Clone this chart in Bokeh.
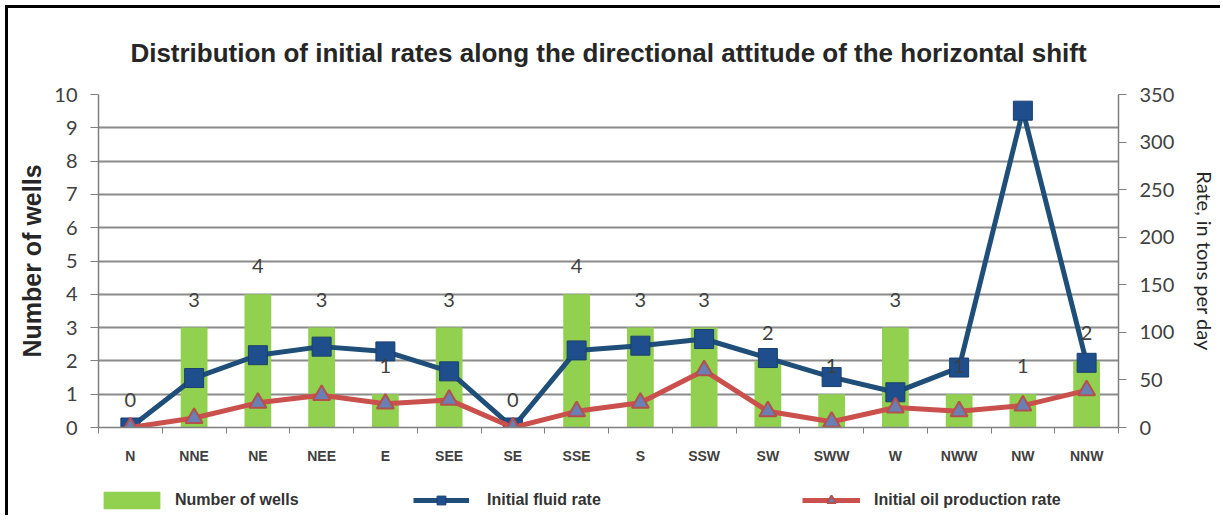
from bokeh.plotting import figure
from bokeh.layouts import column
from bokeh.models import (Range1d, LinearAxis, CategoricalAxis, FixedTicker, FactorRange,
                          ColumnDataSource, LabelSet, Legend, LegendItem)
from bokeh.core.properties import value
from bokeh.embed import file_html
from bokeh.resources import INLINE

categories = ["N", "NNE", "NE", "NEE", "E", "SEE", "SE", "SSE", "S", "SSW", "SW", "SWW", "W", "NWW", "NW", "NNW"]
wells = [0, 3, 4, 3, 1, 3, 0, 4, 3, 3, 2, 1, 3, 1, 1, 2]
fluid_rate = [0, 52, 76, 85, 80, 59, 0, 81, 86, 93, 73, 53, 37, 63, 333, 68]
oil_rate = [0, 10, 26, 34, 25, 29, 0, 17, 26, 60, 17, 6, 21, 17, 23, 39]
left_ticks = list(range(0, 11))
right_ticks = list(range(0, 351, 50))

title_text = "Distribution of initial rates along the directional attitude of the horizontal shift"
legend_labels = ["Number of wells", "Initial fluid rate", "Initial oil production rate"]

src = ColumnDataSource(dict(cat=categories, wells=wells, fluid=fluid_rate, oil=oil_rate,
                            wlab=[str(w) for w in wells]))

GREEN = "#92D050"
BLUE_LINE, BLUE_FILL, BLUE_EDGE = "#1F4E79", "#1F4E8C", "#1B3F6E"
RED_LINE, TRI_FILL, TRI_EDGE = "#C9504C", "#6A7FB3", "#B5504C"

p = figure(width=1212, height=475, x_range=FactorRange(*categories, range_padding=0),
           y_range=Range1d(0, 10), output_backend="svg", toolbar_location=None,
           x_axis_location=None, y_axis_location=None,
           min_border_left=90, min_border_right=102, min_border_top=86, min_border_bottom=56)
p.extra_y_ranges = {"rate": Range1d(0, 350)}

p.title.text = title_text
p.title.align = "center"
p.title.text_font = "Liberation Sans"
p.title.text_font_size = "26px"
p.title.text_font_style = "bold"
p.title.text_color = "#262626"
p.title.standoff = 54

p.background_fill_color = "white"
p.border_fill_color = "white"
p.outline_line_color = None

grid_col = "#8A8A8A"
tick_col = "#7F7F7F"

# left axis
yl = LinearAxis(ticker=FixedTicker(ticks=left_ticks), axis_label="Number of wells")
yl.axis_line_color = tick_col
yl.axis_line_width = 1.5
yl.major_tick_line_color = tick_col
yl.major_tick_out = 8
yl.major_tick_in = 0
yl.minor_tick_line_color = None
yl.major_label_text_font = "Lato"
yl.major_label_text_font_size = "20px"
yl.major_label_text_color = "#404040"
yl.major_label_standoff = 13
yl.axis_label_text_font = "Liberation Sans"
yl.axis_label_text_font_style = "bold"
yl.axis_label_text_font_size = "25px"
yl.axis_label_text_color = "#262626"
yl.axis_label_standoff = 5
p.add_layout(yl, "left")

# right axis
yr = LinearAxis(y_range_name="rate", ticker=FixedTicker(ticks=right_ticks),
                axis_label="Rate, in tons per day")
yr.axis_line_color = tick_col
yr.axis_line_width = 1.5
yr.major_tick_line_color = tick_col
yr.major_tick_out = 8
yr.major_tick_in = 0
yr.minor_tick_line_color = None
yr.major_label_text_font = "Lato"
yr.major_label_text_font_size = "20px"
yr.major_label_text_color = "#404040"
yr.major_label_standoff = 13
yr.axis_label_text_font = "Lato"
yr.axis_label_text_font_style = "normal"
yr.axis_label_text_font_size = "20px"
yr.axis_label_text_color = "#262626"
yr.axis_label_standoff = 16
p.add_layout(yr, "right")

# x tick marks at category boundaries (synthetic coordinates of the factor range)
bounds = list(range(len(categories) + 1))
xt = LinearAxis(ticker=FixedTicker(ticks=bounds))
xt.axis_line_color = tick_col
xt.axis_line_width = 1.5
xt.major_tick_line_color = tick_col
xt.major_tick_out = 6
xt.major_tick_in = 0
xt.minor_tick_line_color = None
xt.major_label_overrides = {b: "" for b in bounds}
xt.major_label_standoff = 0
xt.major_label_text_font_size = "2px"
p.add_layout(xt, "below")

xc = CategoricalAxis()
xc.axis_line_color = None
xc.major_tick_line_color = None
xc.major_tick_out = 0
xc.major_label_text_font = "Liberation Sans"
xc.major_label_text_font_style = "bold"
xc.major_label_text_font_size = "14px"
xc.major_label_text_color = "#404040"
xc.major_label_standoff = 14
p.add_layout(xc, "below")

p.ygrid.grid_line_color = grid_col
p.ygrid.grid_line_width = 2
p.ygrid.ticker = FixedTicker(ticks=left_ticks)
p.xgrid.grid_line_color = None

p.vbar(x="cat", top="wells", width=0.42, source=src, fill_color=GREEN, line_color=None)

labels = LabelSet(x="cat", y="wells", text="wlab", source=src, y_offset=28,
                  text_align="center", text_baseline="middle",
                  text_font=value("Lato"), text_font_size=value("20px"), text_color=value("#404040"))
p.add_layout(labels)

p.line(x="cat", y="fluid", source=src, y_range_name="rate", line_color=BLUE_LINE, line_width=5)
p.scatter(x="cat", y="fluid", source=src, y_range_name="rate", marker="square", size=19,
          fill_color=BLUE_FILL, line_color=BLUE_EDGE, line_width=1)
p.line(x="cat", y="oil", source=src, y_range_name="rate", line_color=RED_LINE, line_width=5)
p.scatter(x="cat", y="oil", source=src, y_range_name="rate", marker="triangle", size=17,
          fill_color=TRI_FILL, line_color=TRI_EDGE, line_width=2)

# legend strip below the chart: legend proxies whose data lie outside its view
lf = figure(width=1212, height=32, x_range=Range1d(1000, 1001), y_range=Range1d(1000, 1001),
            output_backend="svg", toolbar_location=None,
            x_axis_location=None, y_axis_location=None,
            min_border_left=0, min_border_right=0, min_border_top=0, min_border_bottom=0)
lf.outline_line_color = None
lf.xgrid.grid_line_color = None
lf.ygrid.grid_line_color = None
lf.background_fill_color = "white"
lf.border_fill_color = "white"
lb = lf.vbar(x="wells", top="fluid", width=0.42, source=src, fill_color=GREEN, line_color=None)
l1 = lf.line(x="wells", y="fluid", source=src, line_color=BLUE_LINE, line_width=5)
s1 = lf.scatter(x="wells", y="fluid", source=src, marker="square", size=19,
                fill_color=BLUE_FILL, line_color=BLUE_EDGE, line_width=1)
l2 = lf.line(x="wells", y="oil", source=src, line_color=RED_LINE, line_width=5)
s2 = lf.scatter(x="wells", y="oil", source=src, marker="triangle", size=17,
                fill_color=TRI_FILL, line_color=TRI_EDGE, line_width=2)

def make_legend(label, renderers, x, gw, standoff):
    lg = Legend(items=[LegendItem(label=label, renderers=renderers)], location=(x, 4),
                orientation="horizontal", padding=0, margin=0, border_line_color=None,
                background_fill_alpha=0, glyph_width=gw, glyph_height=22, label_standoff=standoff,
                label_height=22,
                label_text_font="Liberation Sans", label_text_font_style="bold",
                label_text_font_size="16px", label_text_color="#333333")
    lf.add_layout(lg, "center")

make_legend(legend_labels[0], [lb], -2, 71, 8)
make_legend(legend_labels[1], [l1, s1], 315, 56, 18)
make_legend(legend_labels[2], [l2, s2], 704, 58, 14)

layout = column(p, lf, spacing=0)
layout.margin = (5, 0, 0, 5)
layout.styles = {"border-left": "3px solid black", "border-top": "3px solid black"}

open("out.html", "w").write(file_html(layout, INLINE))
